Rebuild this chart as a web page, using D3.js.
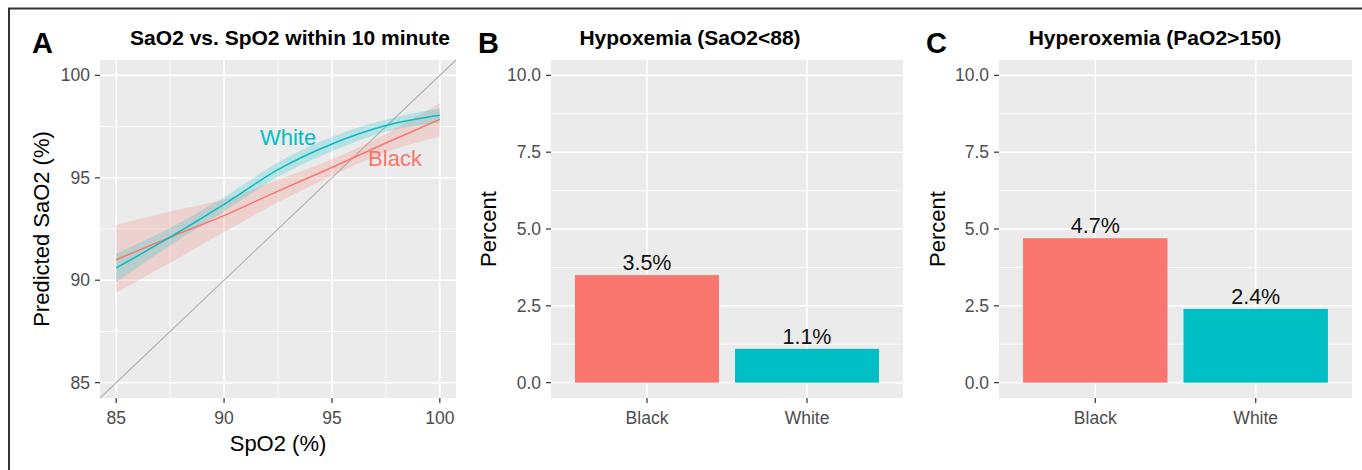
<html lang="en">
<head>
  <script src="https://d3js.org/d3.v7.min.js"></script>
  <style>
    body { margin: 0; background: white; }
    svg text { font-family: "Liberation Sans", Arial, sans-serif; }
  </style>
</head>
<body>
  <svg id="fig" width="1362" height="470"></svg>

  <script>
    // panel A - smoothed SaO2 vs SpO2
    const spo2 = [85, 87.5, 90, 92.5, 95, 97.5, 100];
    const whiteFit = [90.6, 92.1, 93.7, 95.4, 96.65, 97.55, 98.05];
    const whiteLo  = [89.9, 91.7, 93.35, 95.05, 96.3, 97.25, 97.7];
    const whiteHi  = [91.3, 92.55, 94.05, 95.75, 97.0, 97.85, 98.4];
    const blackFit = [91.0, 92.1, 93.15, 94.35, 95.5, 96.7, 97.85];
    const blackLo  = [89.4, 90.85, 92.35, 93.8, 95.1, 96.25, 97.0];
    const blackHi  = [92.7, 93.35, 93.95, 94.9, 95.9, 97.15, 98.65];
    const spo2Ticks = [85, 90, 95, 100];

    // panels B and C
    const races = ["Black", "White"];
    const raceColors = ["#F8766D", "#00BFC4"];
    const hypoxemia = [3.5, 1.1];
    const hyperoxemia = [4.7, 2.4];
    const pctTicks = [0, 2.5, 5, 7.5, 10];

    const svg = d3.select("#fig");
    const bg = "#EBEBEB";
    const tickCol = "#4D4D4D";

    // frame around figure
    svg.append("path")
      .attr("d", "M9,470V8.5H1362")
      .attr("fill", "none")
      .attr("stroke", "#333")
      .attr("stroke-width", 2);

    const plotTop = 60, plotBottom = 398;

    function panelLetter(x, letter) {
      svg.append("text").attr("x", x).attr("y", 53)
        .attr("font-size", 29).attr("font-weight", "bold")
        .text(letter);
    }
    function panelTitle(x, str) {
      svg.append("text").attr("x", x).attr("y", 45)
        .attr("text-anchor", "middle")
        .attr("font-size", 21).attr("font-weight", "bold")
        .text(str);
    }
    function yTitle(x, str) {
      svg.append("text")
        .attr("transform", "translate(" + x + "," + (plotTop + plotBottom) / 2 + ") rotate(-90)")
        .attr("text-anchor", "middle")
        .attr("font-size", 22)
        .text(str);
    }

    function yAxis(g, y, left, ticks, fmt) {
      g.selectAll(".ytick").data(ticks).enter().append("line")
        .attr("x1", left - 5).attr("x2", left)
        .attr("y1", d => y(d)).attr("y2", d => y(d))
        .attr("stroke", "#333").attr("stroke-width", 1.2);
      g.selectAll(".ylab").data(ticks).enter().append("text")
        .attr("x", left - 10).attr("y", d => y(d) + 6)
        .attr("text-anchor", "end")
        .attr("font-size", 17.5).attr("fill", tickCol)
        .text(fmt);
    }
    function xAxis(g, xs, labels) {
      g.selectAll(".xtick").data(xs).enter().append("line")
        .attr("x1", d => d).attr("x2", d => d)
        .attr("y1", plotBottom).attr("y2", plotBottom + 5)
        .attr("stroke", "#333").attr("stroke-width", 1.2);
      g.selectAll(".xlab").data(xs).enter().append("text")
        .attr("x", d => d).attr("y", 424)
        .attr("text-anchor", "middle")
        .attr("font-size", 17.5).attr("fill", tickCol)
        .text((d, i) => labels[i]);
    }

    // ---------- panel A ----------
    const xA = d3.scaleLinear().domain([84.25, 100.75]).range([100, 456]);
    const yA = d3.scaleLinear().domain([84.25, 100.75]).range([plotBottom, plotTop]);
    const gA = svg.append("g");

    gA.append("rect").attr("x", 100).attr("y", plotTop)
      .attr("width", 356).attr("height", plotBottom - plotTop).attr("fill", bg);

    const minorA = [87.5, 92.5, 97.5];
    gA.selectAll(".vminor").data(minorA).enter().append("line")
      .attr("x1", d => xA(d)).attr("x2", d => xA(d)).attr("y1", plotTop).attr("y2", plotBottom)
      .attr("stroke", "white").attr("stroke-width", 0.8);
    gA.selectAll(".hminor").data(minorA).enter().append("line")
      .attr("y1", d => yA(d)).attr("y2", d => yA(d)).attr("x1", 100).attr("x2", 456)
      .attr("stroke", "white").attr("stroke-width", 0.8);
    gA.selectAll(".vmajor").data(spo2Ticks).enter().append("line")
      .attr("x1", d => xA(d)).attr("x2", d => xA(d)).attr("y1", plotTop).attr("y2", plotBottom)
      .attr("stroke", "white").attr("stroke-width", 1.6);
    gA.selectAll(".hmajor").data(spo2Ticks).enter().append("line")
      .attr("y1", d => yA(d)).attr("y2", d => yA(d)).attr("x1", 100).attr("x2", 456)
      .attr("stroke", "white").attr("stroke-width", 1.6);

    // identity line
    gA.append("line")
      .attr("x1", xA(84.25)).attr("y1", yA(84.25))
      .attr("x2", xA(100.75)).attr("y2", yA(100.75))
      .attr("stroke", "#B3B3B3").attr("stroke-width", 1.1);

    const groups = [
      { name: "Black", color: raceColors[0], fit: blackFit, lo: blackLo, hi: blackHi },
      { name: "White", color: raceColors[1], fit: whiteFit, lo: whiteLo, hi: whiteHi }
    ];

    const ribbon = d3.area()
      .x((d, i) => xA(spo2[i]))
      .y0(d => yA(d[0])).y1(d => yA(d[1]))
      .curve(d3.curveMonotoneX);
    const fitLine = d3.line()
      .x((d, i) => xA(spo2[i])).y(d => yA(d))
      .curve(d3.curveMonotoneX);

    groups.forEach(gr => {
      gA.append("path")
        .datum(gr.lo.map((v, i) => [v, gr.hi[i]]))
        .attr("d", ribbon)
        .attr("fill", gr.color).attr("fill-opacity", 0.22);
    });
    groups.forEach(gr => {
      gA.append("path")
        .datum(gr.fit)
        .attr("d", fitLine)
        .attr("fill", "none")
        .attr("stroke", gr.color).attr("stroke-width", 1.5);
    });

    gA.append("text").attr("x", 288).attr("y", 145)
      .attr("text-anchor", "middle").attr("font-size", 22)
      .attr("fill", raceColors[1]).text("White");
    gA.append("text").attr("x", 395).attr("y", 166)
      .attr("text-anchor", "middle").attr("font-size", 22)
      .attr("fill", raceColors[0]).text("Black");

    yAxis(gA, yA, 100, spo2Ticks, d => d);
    xAxis(gA, spo2Ticks.map(xA), spo2Ticks);

    panelLetter(32, "A");
    panelTitle(290, "SaO2 vs. SpO2 within 10 minute");
    yTitle(49, "Predicted SaO2 (%)");
    svg.append("text").attr("x", 278).attr("y", 451)
      .attr("text-anchor", "middle").attr("font-size", 22)
      .text("SpO2 (%)");

    // ---------- bar panels ----------
    function barPanel(left, right, values, letter, letterX, title, titleX, ytitleX) {
      const g = svg.append("g");
      const x = d3.scaleBand().domain(races).range([left, right])
        .paddingInner(0.1).paddingOuter(0.15);
      const y = d3.scaleLinear().domain([-0.5, 10.5]).range([plotBottom, plotTop]);

      g.append("rect").attr("x", left).attr("y", plotTop)
        .attr("width", right - left).attr("height", plotBottom - plotTop).attr("fill", bg);

      const minor = [1.25, 3.75, 6.25, 8.75];
      g.selectAll(".hminor").data(minor).enter().append("line")
        .attr("y1", d => y(d)).attr("y2", d => y(d)).attr("x1", left).attr("x2", right)
        .attr("stroke", "white").attr("stroke-width", 0.8);
      g.selectAll(".hmajor").data(pctTicks).enter().append("line")
        .attr("y1", d => y(d)).attr("y2", d => y(d)).attr("x1", left).attr("x2", right)
        .attr("stroke", "white").attr("stroke-width", 1.6);
      g.selectAll(".vmajor").data(races).enter().append("line")
        .attr("x1", d => x(d) + x.bandwidth() / 2).attr("x2", d => x(d) + x.bandwidth() / 2)
        .attr("y1", plotTop).attr("y2", plotBottom)
        .attr("stroke", "white").attr("stroke-width", 1.6);

      g.selectAll(".bar").data(values).enter().append("rect")
        .attr("x", (d, i) => x(races[i]))
        .attr("y", d => y(d))
        .attr("width", x.bandwidth())
        .attr("height", d => y(0) - y(d))
        .attr("fill", (d, i) => raceColors[i]);

      g.selectAll(".barlab").data(values).enter().append("text")
        .attr("x", (d, i) => x(races[i]) + x.bandwidth() / 2)
        .attr("y", d => y(d) - 5)
        .attr("text-anchor", "middle")
        .attr("font-size", 21.5).attr("fill", "#111")
        .text(d => d.toFixed(1) + "%");

      yAxis(g, y, left, pctTicks, d => d.toFixed(1));
      xAxis(g, races.map(r => x(r) + x.bandwidth() / 2), races);

      panelLetter(letterX, letter);
      panelTitle(titleX, title);
      yTitle(ytitleX, "Percent");
    }

    barPanel(551, 903, hypoxemia, "B", 478, "Hypoxemia (SaO2<88)", 690, 496);
    barPanel(999, 1352, hyperoxemia, "C", 926, "Hyperoxemia (PaO2>150)", 1155, 945);
  </script>
</body>
</html>
